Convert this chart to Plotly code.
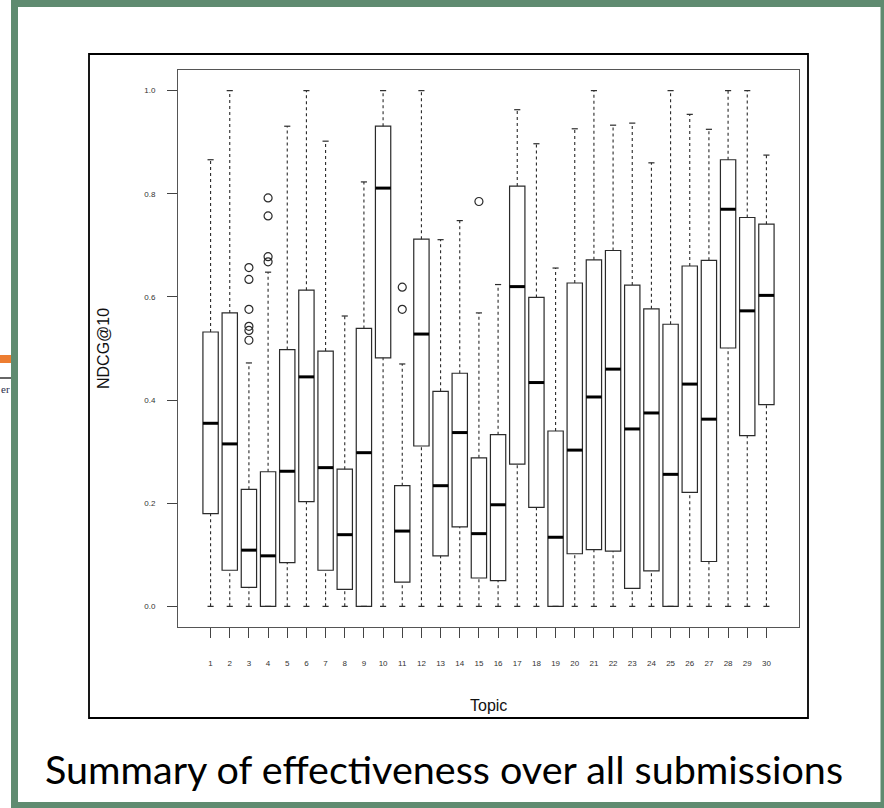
import plotly.graph_objects as go

# ---------------- data ----------------
topics = list(range(1, 31))
upper_whisker = [0.866, 1.0, 0.472, 0.648, 0.931, 1.0, 0.902, 0.563, 0.823, 1.0,
                 0.470, 1.0, 0.711, 0.748, 0.569, 0.624, 0.963, 0.897, 0.656, 0.926,
                 1.0, 0.933, 0.937, 0.860, 1.0, 0.954, 0.925, 1.0, 1.0, 0.875]
q3 = [0.532, 0.569, 0.227, 0.261, 0.498, 0.613, 0.495, 0.266, 0.539, 0.931,
      0.234, 0.712, 0.417, 0.452, 0.288, 0.333, 0.815, 0.599, 0.340, 0.627,
      0.672, 0.690, 0.623, 0.577, 0.547, 0.660, 0.671, 0.866, 0.754, 0.741]
median = [0.355, 0.315, 0.109, 0.098, 0.262, 0.445, 0.269, 0.139, 0.298, 0.811,
          0.146, 0.528, 0.234, 0.337, 0.141, 0.197, 0.620, 0.434, 0.134, 0.303,
          0.406, 0.460, 0.344, 0.375, 0.256, 0.431, 0.363, 0.770, 0.573, 0.603]
q1 = [0.180, 0.070, 0.037, 0.0, 0.085, 0.203, 0.070, 0.033, 0.0, 0.482,
      0.047, 0.311, 0.098, 0.154, 0.055, 0.050, 0.276, 0.192, 0.0, 0.102,
      0.110, 0.107, 0.035, 0.069, 0.0, 0.221, 0.087, 0.501, 0.331, 0.391]
lower_whisker = [0.0, 0.0, 0.0, 0.0, 0.0, 0.0, 0.0, 0.0, 0.0, 0.0,
                 0.0, 0.0, 0.0, 0.0, 0.0, 0.0, 0.0, 0.0, 0.0, 0.0,
                 0.0, 0.0, 0.0, 0.0, 0.0, 0.0, 0.0, 0.0, 0.0, 0.0]
outlier_topics = [3, 3, 3, 3, 3, 3, 4, 4, 4, 4, 11, 11, 15]
outlier_values = [0.657, 0.634, 0.576, 0.543, 0.535, 0.516,
                  0.792, 0.757, 0.678, 0.668, 0.619, 0.576, 0.785]
y_tick_values = [0.0, 0.2, 0.4, 0.6, 0.8, 1.0]
y_tick_labels = ["0.0", "0.2", "0.4", "0.6", "0.8", "1.0"]
x_tick_labels = [str(t) for t in topics]

# ---------------- layout geometry ----------------
W, H = 884, 808
L, R, T, B = 178, 85, 70, 181
PW, PH = W - L - R, H - T - B


def px(x):
    return (x - L) / PW


def py(y):
    return (H - B - y) / PH


BOX_HALF = 0.4
CAP_HALF = 0.16
INK = "#2a2a2a"

fig = go.Figure()

# boxes (quartiles + median), whiskers drawn separately in R style
fig.add_trace(go.Box(
    x=topics, q1=q1, median=median, q3=q3,
    lowerfence=q1, upperfence=q3,
    width=2 * BOX_HALF,
    fillcolor="rgba(255,255,255,0)",
    line=dict(color=INK, width=1.2),
    whiskerwidth=0, boxpoints=False, hoverinfo="skip", showlegend=False,
))

# dashed whiskers
wx, wy = [], []
for t, lo, a, b, up in zip(topics, lower_whisker, q1, q3, upper_whisker):
    wx += [t, t, None, t, t, None]
    wy += [lo, a, None, b, up, None]
fig.add_trace(go.Scatter(x=wx, y=wy, mode="lines",
                         line=dict(color=INK, width=1.1, dash="3px,3px"),
                         hoverinfo="skip", showlegend=False))

# staples
sx, sy = [], []
for t, lo, up in zip(topics, lower_whisker, upper_whisker):
    sx += [t - CAP_HALF, t + CAP_HALF, None, t - CAP_HALF, t + CAP_HALF, None]
    sy += [lo, lo, None, up, up, None]
fig.add_trace(go.Scatter(x=sx, y=sy, mode="lines",
                         line=dict(color=INK, width=1.2),
                         hoverinfo="skip", showlegend=False))

# thick medians
mx, my = [], []
for t, m in zip(topics, median):
    mx += [t - BOX_HALF, t + BOX_HALF, None]
    my += [m, m, None]
fig.add_trace(go.Scatter(x=mx, y=my, mode="lines",
                         line=dict(color="#000000", width=3),
                         hoverinfo="skip", showlegend=False))

# outliers
fig.add_trace(go.Scatter(x=outlier_topics, y=outlier_values, mode="markers",
                         marker=dict(symbol="circle-open", size=8,
                                     color=INK, line=dict(width=1.2)),
                         hoverinfo="skip", showlegend=False))

axis_font = dict(family="Liberation Sans, Arial, sans-serif", color="#333333")

fig.update_xaxes(
    range=[-0.7, 31.7], tickmode="array", tickvals=topics, ticktext=x_tick_labels,
    ticks="outside", ticklen=10, tickwidth=1, tickcolor="#444444",
    tickfont=dict(size=8, **axis_font), ticklabelstandoff=18,
    showgrid=False, zeroline=False, showline=True, mirror=True,
    linecolor="#555555", linewidth=1,
)
fig.update_yaxes(
    range=[-0.04, 1.04], tickmode="array", tickvals=y_tick_values, ticktext=y_tick_labels,
    ticks="outside", ticklen=10, tickwidth=1, tickcolor="#444444",
    tickfont=dict(size=8, **axis_font), ticklabelstandoff=10,
    showgrid=False, zeroline=False, showline=True, mirror=True,
    linecolor="#555555", linewidth=1,
)

shapes = [
    # slide fragments on the far left
    dict(type="rect", xref="paper", yref="paper", x0=px(-5), x1=px(12), y0=py(355), y1=py(363),
         fillcolor="#ED7D31", line=dict(width=0), layer="above"),
    dict(type="line", xref="paper", yref="paper", x0=px(-5), x1=px(12), y0=py(378), y1=py(378),
         line=dict(color="#000000", width=1.2), layer="above"),
    # outer black frame around the R figure
    dict(type="rect", xref="paper", yref="paper", x0=px(89), x1=px(808), y0=py(54), y1=py(718),
         line=dict(color="#000000", width=1.8), fillcolor="rgba(0,0,0,0)", layer="above"),
    # green slide frame
    dict(type="rect", xref="paper", yref="paper", x0=px(14.5), x1=px(884), y0=py(3.5), y1=py(805.5),
         line=dict(color="#5F8B70", width=7), fillcolor="rgba(0,0,0,0)", layer="above"),
]

annotations = [
    dict(text="NDCG@10", xref="paper", yref="paper", x=px(103.5), y=0.5,
         xanchor="center", yanchor="middle", textangle=-90, showarrow=False,
         font=dict(family="Liberation Sans, Arial, sans-serif", size=16, color="#111111")),
    dict(text="Topic", xref="paper", yref="paper", x=0.5, y=py(705),
         xanchor="center", yanchor="middle", showarrow=False,
         font=dict(family="Liberation Sans, Arial, sans-serif", size=16, color="#111111")),
    dict(text="Summary of effectiveness over all submissions", xref="paper", yref="paper",
         x=px(444), y=py(768), xanchor="center", yanchor="middle", showarrow=False,
         font=dict(family="Lato, Carlito, sans-serif", size=39.5, color="#000000")),
    dict(text="er", xref="paper", yref="paper", x=px(0), y=py(389),
         xanchor="left", yanchor="middle", showarrow=False, borderpad=0,
         font=dict(family="Liberation Serif, serif", size=11, color="#2b2d4a")),
]

fig.update_layout(
    width=W, height=H,
    margin=dict(l=L, r=R, t=T, b=B, pad=0),
    paper_bgcolor="#ffffff", plot_bgcolor="#ffffff",
    shapes=shapes, annotations=annotations,
    showlegend=False,
)

fig.write_html(
    "out.html",
    config={"displayModeBar": False},
    post_script="document.body.style.margin='0px';document.body.style.overflow='hidden';",
)
